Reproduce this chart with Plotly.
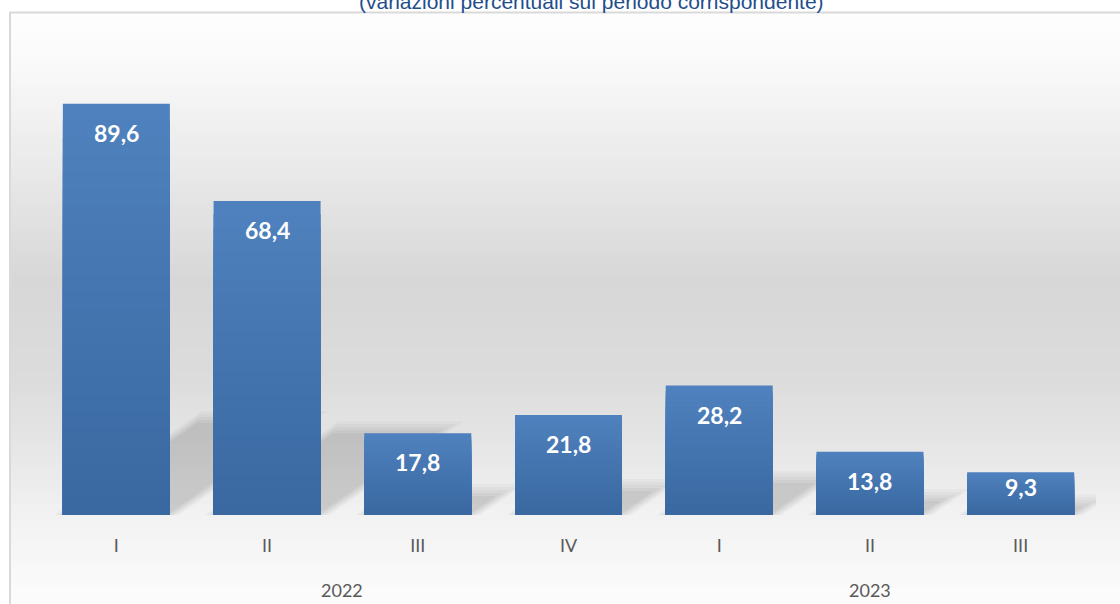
import plotly.graph_objects as go

# ---- data ----
quarters = ["I", "II", "III", "IV", "I", "II", "III"]
years = ["2022", "2023"]
year_groups = [[0, 1, 2, 3], [4, 5, 6]]
values = [89.6, 68.4, 17.8, 21.8, 28.2, 13.8, 9.3]
subtitle = "(variazioni percentuali sul periodo corrispondente)"

# ---- geometry helpers (page pixels -> paper) ----
W, H = 1120, 604
ML, MR, MT, MB = 41, 24, 56, 89
PW, PH = W - ML - MR, H - MT - MB
YMAX = 100.0
UX = PW / len(values)     # pixels per category
UY = PH / YMAX            # pixels per value unit


def px(x):
    return (x - ML) / PW


def py(y):
    return (H - MB - y) / PH


def hex2rgb(h):
    h = h.lstrip("#")
    return tuple(int(h[i:i + 2], 16) for i in (0, 2, 4))


def lerp(c1, c2, t):
    a, b = hex2rgb(c1), hex2rgb(c2)
    return "rgb(%d,%d,%d)" % tuple(round(a[i] + (b[i] - a[i]) * t) for i in range(3))


def grad(stops, y):
    for (y0, c0), (y1, c1) in zip(stops, stops[1:]):
        if y0 <= y <= y1:
            return lerp(c0, c1, (y - y0) / (y1 - y0) if y1 > y0 else 0)
    return stops[-1][1]


fig = go.Figure()

# ---- bars with vertical gradient (overlaid bands) ----
N = 24
top_col, bot_col = "#4f81be", "#3a68a0"
idx = list(range(len(values)))
BW = 0.71
for k in range(N):
    frac = 1 - k / N
    fig.add_trace(go.Bar(
        x=idx, y=[v * frac for v in values],
        marker=dict(color=lerp(top_col, bot_col, k / (N - 1)), line=dict(width=0)),
        width=BW, hoverinfo="skip", showlegend=False,
    ))

shapes = []
# background gradient inside the frame
bg_stops = [(13, "#fefefe"), (60, "#fafafa"), (150, "#ececec"), (280, "#d7d7d7"),
            (380, "#dcdcdc"), (460, "#e8e8e8"), (515, "#f2f2f2"), (604, "#fcfcfc")]
step = 6
y = 12
while y < H:
    y2 = min(y + step, H + 2)
    shapes.append(dict(type="rect", xref="paper", yref="paper", layer="below",
                       x0=px(10), x1=px(W + 5), y0=py(y2), y1=py(y),
                       fillcolor=grad(bg_stops, y + step / 2), line=dict(width=0)))
    y = y2
# frame
shapes.append(dict(type="rect", xref="paper", yref="paper", layer="below",
                   x0=px(10), x1=px(W + 20), y0=py(H + 20), y1=py(12.5),
                   fillcolor="rgba(0,0,0,0)", line=dict(color="#d9d9d9", width=2)))

# perspective shadows cast to the upper right (layered for a soft blur)
SLOPE = 0.7      # rise / run of the shadow skew
KS = 0.27        # shadow length relative to bar height
for i, v in enumerate(values):
    hpx = v * UY
    hs = min(KS * hpx, 95)
    for d, op in [(9, 0.035), (6, 0.04), (3, 0.045), (0, 0.05), (-3, 0.05)]:
        h2 = max(hs + d, 2)
        s2 = h2 / SLOPE
        xl = i - BW / 2 - d / UX
        xr = i + BW / 2 + d / UX
        pts = [(xl, 0), (xr, 0), (xr + s2 / UX, h2 / UY), (xl + s2 / UX, h2 / UY)]
        path = "M " + " L ".join("%.5f,%.4f" % p for p in pts) + " Z"
        shapes.append(dict(type="path", xref="x", yref="y", layer="below", path=path,
                           fillcolor="rgba(60,60,60,%.3f)" % op, line=dict(width=0)))

annotations = []
for i, v in enumerate(values):
    yc = max(v - 29 / UY, 28 / UY)
    annotations.append(dict(
        x=i, y=yc, xref="x", yref="y", yanchor="middle",
        text="<b>%s</b>" % ("%.1f" % v).replace(".", ","), showarrow=False,
        font=dict(family="Lato, 'Open Sans', sans-serif", size=23, color="white")))
for yr, grp in zip(years, year_groups):
    annotations.append(dict(
        x=sum(grp) / len(grp), y=py(590), xref="x", yref="paper", yanchor="middle",
        text=yr, showarrow=False,
        font=dict(family="Lato, 'Open Sans', sans-serif", size=18, color="#595959")))
annotations.append(dict(
    x=px(591), y=py(1), xref="paper", yref="paper", yanchor="middle",
    text=subtitle, showarrow=False,
    font=dict(family="Liberation Sans, Arial, sans-serif", size=21, color="#1f4e8c")))

fig.update_layout(
    width=W, height=H, barmode="overlay", bargap=0.29,
    margin=dict(l=ML, r=MR, t=MT, b=MB),
    paper_bgcolor="white", plot_bgcolor="rgba(0,0,0,0)",
    separators=",.",
    shapes=shapes, annotations=annotations,
    xaxis=dict(range=[-0.5, len(values) - 0.5], tickmode="array", tickvals=idx,
               ticktext=quarters, showgrid=False, zeroline=False, showline=False,
               ticks="", ticklabelstandoff=18,
               tickfont=dict(family="Lato, 'Open Sans', sans-serif", size=18, color="#595959")),
    yaxis=dict(range=[0, YMAX], visible=False, showgrid=False, zeroline=False),
    showlegend=False,
)

fig.write_html("out.html", config={"displayModeBar": False},
               post_script="document.body.style.margin='0';document.body.style.padding='0';")
